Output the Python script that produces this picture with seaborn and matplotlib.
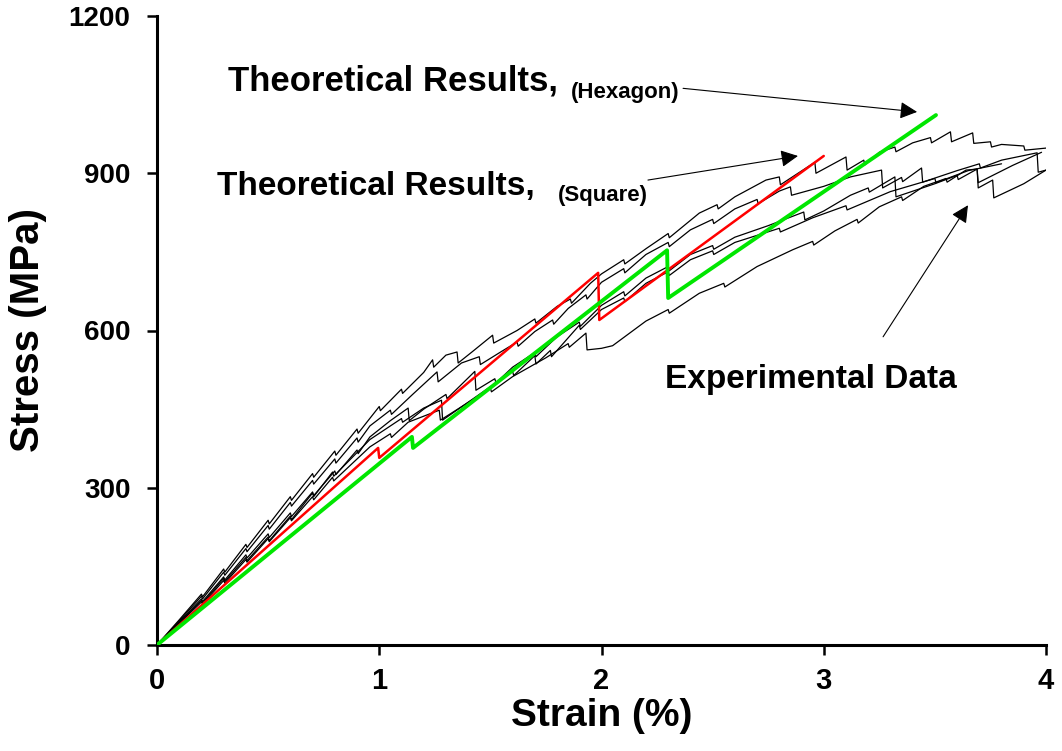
import matplotlib
matplotlib.use("Agg")
import matplotlib.pyplot as plt
import pandas as pd
import seaborn as sns

# ---- experimental stress-strain records (strain in %, stress in MPa) ----
spec_a_strain = [0, 0.10, 0.20, 0.205, 0.30, 0.305, 0.40, 0.405, 0.50, 0.505, 0.60, 0.605,
                 0.70, 0.705, 0.80, 0.805, 0.90, 0.905, 1.00, 1.005, 1.10, 1.105, 1.20, 1.24,
                 1.245, 1.30, 1.35, 1.355, 1.42, 1.51, 1.515, 1.62, 1.70, 1.705, 1.80, 1.86,
                 1.865, 1.95, 2.0, 2.1, 2.105, 2.2, 2.3, 2.305, 2.44, 2.52, 2.525, 2.6, 2.74,
                 2.80, 2.805, 2.96, 2.965, 3.10, 3.105, 3.18, 3.185, 3.25, 3.32, 3.325, 3.40,
                 3.48, 3.485, 3.57, 3.575, 3.67, 3.675, 3.75, 3.755, 3.8, 3.9, 3.905, 4.0]
spec_a_stress = [0, 48, 97, 92, 145, 139, 192, 186, 238, 231, 283, 276,
                 327, 320, 370, 362, 412, 404, 455, 447, 488, 480, 520, 544,
                 530, 553, 559, 538, 560, 591, 576, 600, 622, 614, 646, 660,
                 652, 690, 708, 735, 727, 756, 785, 777, 824, 840, 832, 855, 887,
                 893, 878, 921, 900, 931, 906, 925, 916, 940, 950, 941, 958,
                 968, 958, 979, 960, 977, 957, 960, 950, 955, 952, 944, 948]

spec_b_strain = [0, 0.1, 0.2, 0.205, 0.3, 0.305, 0.4, 0.405, 0.5, 0.505, 0.6, 0.605, 0.7,
                 0.705, 0.8, 0.805, 0.9, 0.905, 0.958, 1.05, 1.055, 1.15, 1.26, 1.265, 1.37,
                 1.45, 1.455, 1.55, 1.62, 1.625, 1.7, 1.78, 1.785, 1.85, 1.93, 1.935, 2.0,
                 2.1, 2.105, 2.2, 2.3, 2.305, 2.4, 2.5, 2.505, 2.6, 2.7, 2.705, 2.8, 2.85,
                 2.855, 3.0, 3.12, 3.26, 3.265, 3.35, 3.355, 3.44, 3.445, 3.6, 3.7, 3.705,
                 3.8, 3.96, 3.965, 4.0]
spec_b_stress = [0, 46, 93, 88, 139, 133, 184, 178, 228, 221, 272, 265, 314,
                 307, 355, 347, 395, 387, 418, 448, 440, 478, 521, 502, 538,
                 550, 535, 560, 578, 570, 598, 620, 612, 642, 668, 660, 692,
                 718, 710, 745, 768, 760, 792, 812, 804, 832, 850, 842, 866, 874,
                 858, 875, 893, 906, 872, 892, 884, 910, 883, 905, 918, 910,
                 925, 939, 902, 906]

spec_c_strain = [0, 0.1, 0.2, 0.205, 0.3, 0.305, 0.4, 0.405, 0.5, 0.505, 0.6, 0.605, 0.7,
                 0.705, 0.8, 0.805, 0.9, 0.905, 0.958, 1.05, 1.13, 1.135, 1.2, 1.3, 1.305,
                 1.43, 1.435, 1.52, 1.525, 1.6, 1.7, 1.705, 1.8, 1.9, 1.905, 2.0, 2.1, 2.105,
                 2.2, 2.3, 2.305, 2.4, 2.5, 2.505, 2.6, 2.75, 2.91, 2.915, 3.0, 3.12, 3.2,
                 3.205, 3.32, 3.325, 3.5, 3.6, 3.605, 3.69, 3.695, 3.85, 3.98]
spec_c_stress = [0, 44, 88, 83, 130, 124, 172, 166, 212, 205, 252, 245, 292,
                 285, 332, 325, 372, 365, 397, 428, 452, 428, 450, 478, 470,
                 522, 486, 508, 500, 530, 558, 550, 588, 616, 608, 648, 674, 666,
                 700, 722, 714, 745, 762, 755, 778, 800, 826, 811, 828, 858, 872,
                 864, 893, 855, 880, 896, 888, 908, 882, 915, 940]

spec_d_strain = [0, 0.1, 0.2, 0.205, 0.3, 0.305, 0.4, 0.405, 0.5, 0.505, 0.6, 0.605, 0.7,
                 0.705, 0.79, 0.795, 0.958, 1.1, 1.105, 1.2, 1.28, 1.285, 1.45, 1.6, 1.605,
                 1.70, 1.705, 1.77, 1.775, 1.9, 1.905, 2.0, 2.1, 2.105, 2.2, 2.3, 2.305, 2.4,
                 2.5, 2.505, 2.6, 2.8, 2.805, 2.95, 3.1, 3.105, 3.3, 3.5, 3.505, 3.65, 3.8]
spec_d_stress = [0, 43, 85, 80, 127, 121, 167, 161, 206, 199, 246, 239, 290,
                 283, 330, 322, 392, 432, 425, 452, 467, 429, 478, 522, 514,
                 552, 536, 562, 550, 610, 602, 640, 662, 655, 690, 712, 705, 735,
                 752, 745, 768, 795, 788, 815, 838, 830, 865, 890, 882, 905, 918]

spec_e_strain = [0, 0.1, 0.2, 0.205, 0.3, 0.305, 0.4, 0.405, 0.5, 0.505, 0.6, 0.605, 0.7,
                 0.705, 0.79, 0.795, 0.958, 1.05, 1.055, 1.13, 1.27, 1.275, 1.42, 1.5, 1.505,
                 1.6, 1.75, 1.85, 1.855, 1.93, 1.935, 2.0, 2.05, 2.2, 2.3, 2.305, 2.44, 2.55,
                 2.555, 2.7, 2.86, 2.95, 2.955, 3.05, 3.15, 3.155, 3.25, 3.35, 3.355, 3.45,
                 3.55, 3.555, 3.64, 3.69, 3.695, 3.76, 3.765, 3.9, 4.0]
spec_e_stress = [0, 41, 82, 78, 123, 118, 163, 158, 203, 197, 243, 237, 283,
                 277, 320, 313, 378, 403, 396, 425, 448, 429, 468, 490, 483,
                 512, 548, 575, 568, 595, 563, 566, 571, 618, 640, 633, 671, 690,
                 683, 722, 754, 770, 763, 790, 812, 805, 836, 855, 848, 875,
                 890, 883, 906, 908, 872, 887, 853, 880, 906]

# ---- model predictions ----
square_strain = [0, 0.995, 1.0, 1.985, 1.99, 3.0]
square_stress = [0, 376, 357, 710, 620, 933]

hexagon_strain = [0, 1.147, 1.152, 2.295, 2.30, 3.505]
hexagon_stress = [0, 397, 376, 753, 662, 1011]

x_ticks = [0, 1, 2, 3, 4]
y_ticks = [0, 300, 600, 900, 1200]

# ---- assemble tidy frames ----
specimens = {
    "A": (spec_a_strain, spec_a_stress),
    "B": (spec_b_strain, spec_b_stress),
    "C": (spec_c_strain, spec_c_stress),
    "D": (spec_d_strain, spec_d_stress),
    "E": (spec_e_strain, spec_e_stress),
}
exp_rows = []
for name, (xs, ys) in specimens.items():
    for xv, yv in zip(xs, ys):
        exp_rows.append({"specimen": name, "strain": xv, "stress": yv})
exp_df = pd.DataFrame(exp_rows)

sq_df = pd.DataFrame({"strain": square_strain, "stress": square_stress})
hx_df = pd.DataFrame({"strain": hexagon_strain, "stress": hexagon_stress})

# ---- figure ----
sns.set_style("ticks")
plt.rcParams["font.family"] = ["Liberation Sans", "DejaVu Sans"]
plt.rcParams["font.weight"] = "bold"
for key in ("text.color", "axes.labelcolor", "xtick.color", "ytick.color"):
    plt.rcParams[key] = "black"

fig = plt.figure(figsize=(10.62, 7.51), dpi=100)
ax = fig.add_axes([157 / 1062, 1 - 645 / 751, 889 / 1062, 629 / 751])

sns.lineplot(data=exp_df, x="strain", y="stress", units="specimen", estimator=None,
             sort=False, color="black", linewidth=0.9, ax=ax, zorder=2)
sns.lineplot(data=sq_df, x="strain", y="stress", estimator=None, sort=False,
             color="#ff0000", linewidth=1.8, ax=ax, zorder=3)
sns.lineplot(data=hx_df, x="strain", y="stress", estimator=None, sort=False,
             color="#00e600", linewidth=2.8, ax=ax, zorder=4)

ax.set_xlim(0, 4)
ax.set_ylim(0, 1200)
ax.set_xticks(x_ticks)
ax.set_yticks(y_ticks)
ax.set_xticklabels([str(v) for v in x_ticks], fontsize=21, fontweight="bold")
ax.set_yticklabels([str(v) for v in y_ticks], fontsize=20, fontweight="bold")
sns.despine(ax=ax)
for side in ("left", "bottom"):
    ax.spines[side].set_linewidth(2.2)
    ax.spines[side].set_color("black")
ax.tick_params(axis="both", direction="out", length=7, width=1.8, color="black")
ax.tick_params(axis="x", pad=9)
ax.tick_params(axis="y", pad=12)

ax.set_xlabel("Strain (%)", fontsize=28, fontweight="bold")
ax.set_ylabel("Stress (MPa)", fontsize=29, fontweight="bold")
ax.xaxis.set_label_coords(0.5, -0.085)
ax.yaxis.set_label_coords(-0.124, 0.5)

# ---- callouts ----
ax.text(0.319, 1058, "Theoretical Results,", fontsize=25, fontweight="bold",
        ha="left", va="baseline")
ax.text(1.862, 1043, "(Hexagon)", fontsize=16, fontweight="bold", ha="left", va="baseline")
ax.text(0.270, 858, "Theoretical Results,", fontsize=24, fontweight="bold",
        ha="left", va="baseline")
ax.text(1.804, 847, "(Square)", fontsize=16, fontweight="bold", ha="left", va="baseline")
ax.text(2.286, 490, "Experimental Data", fontsize=24, fontweight="bold",
        ha="left", va="baseline")

arrow_kw = dict(arrowstyle="-|>", color="black", lw=0.8, mutation_scale=26,
                shrinkA=0, shrinkB=0)
ax.annotate("", xy=(3.420, 1017), xytext=(2.367, 1062), arrowprops=arrow_kw)
ax.annotate("", xy=(2.884, 933), xytext=(2.209, 887), arrowprops=arrow_kw)
ax.annotate("", xy=(3.649, 839), xytext=(3.267, 588), arrowprops=arrow_kw)

fig.savefig("out.png", dpi=100)
